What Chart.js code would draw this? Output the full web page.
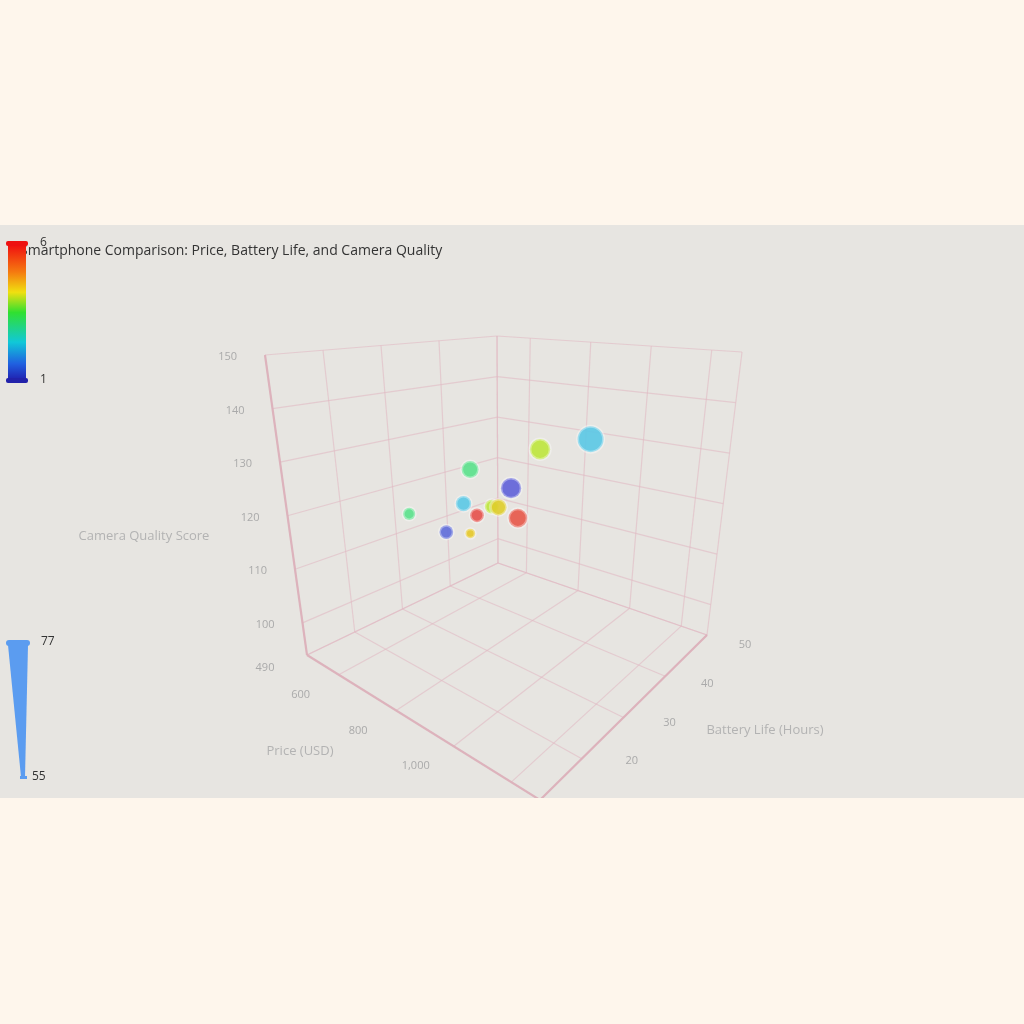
<!DOCTYPE html>
<html><head><meta charset="utf-8">
<script src="https://cdn.jsdelivr.net/npm/chart.js@4/dist/chart.umd.min.js"></script>
<style>html,body{margin:0;padding:0;background:#fef6ec;}#w{width:1024px;height:1024px;}</style>
</head><body><div id="w"><canvas id="c"></canvas></div>
<script>
const prices  = [960, 820, 822, 750, 758, 529, 763, 870, 943, 855, 845, 912];
const battery = [42, 40, 34, 30, 28, 30, 24, 24, 18, 28, 30, 30];
const camera  = [133, 130, 124, 128, 122, 115, 118, 123, 123, 123, 122, 121];
const sizes   = [77, 70, 70, 66, 64, 60, 62, 62, 57, 62, 65, 68];
const colorVals = [2.0, 3.7, 1.1, 3.0, 2.0, 3.0, 1.2, 6.0, 4.3, 3.7, 4.2, 5.9];
const priceTicks = [490, 600, 800, 1000];
const batteryTicks = [20, 30, 40, 50];
const cameraTicks = [100, 110, 120, 130, 140, 150];
const P=[490,1300], B=[10,50], C=[94,150];

const F=[[307,655],[540,800],[498,563],[707,635]];
const T=[[265,355],[548,395],[497,336],[742,352]];
function proj(p,b,c){
  const u=(p-P[0])/(P[1]-P[0]), v=(b-B[0])/(B[1]-B[0]), w=(c-C[0])/(C[1]-C[0]);
  const r=[0,0];
  for(let k=0;k<2;k++){
    const f=(1-u)*(1-v)*F[0][k]+u*(1-v)*F[1][k]+(1-u)*v*F[2][k]+u*v*F[3][k];
    const t=(1-u)*(1-v)*T[0][k]+u*(1-v)*T[1][k]+(1-u)*v*T[2][k]+u*v*T[3][k];
    r[k]=f+(t-f)*w;}
  return {x:r[0],y:r[1]};
}
const stops=[[1,[95,85,215]],[2,[90,200,230]],[3,[90,225,140]],[3.7,[190,230,60]],[4.3,[230,200,40]],[5,[240,140,50]],[6,[230,80,75]]];
function col(v,a){
  for(let i=0;i<stops.length-1;i++){const [a0,c0]=stops[i],[a1,c1]=stops[i+1];
    if(v<=a1){const t=(v-a0)/(a1-a0);return `rgba(${c0.map((x,k)=>Math.round(x+(c1[k]-x)*t)).join(',')},${a})`;}}
  return `rgba(230,80,75,${a})`;
}
const pts=prices.map((p,i)=>proj(p,battery[i],camera[i]));
const radii=sizes.map(s=>4+(s-55)/(77-55)*9);

const deco={id:'deco',beforeDraw(ch){
  const g=ch.ctx;g.save();
  g.fillStyle='#fef6ec';g.fillRect(0,0,1024,1024);
  g.fillStyle='#e7e5e1';g.fillRect(0,225,1024,573);
  g.beginPath();g.rect(0,225,1024,573);g.clip();
  g.strokeStyle='rgba(225,185,195,0.6)';g.lineWidth=1.2;
  const L=(a,b)=>{g.beginPath();g.moveTo(a.x,a.y);g.lineTo(b.x,b.y);g.stroke();};
  const pt=[490,600,800,1000,1200,1300], bt=[10,20,30,40,50], ct=[94,100,110,120,130,140,150];
  pt.forEach(p=>{L(proj(p,B[0],C[0]),proj(p,B[1],C[0]));L(proj(p,B[1],C[0]),proj(p,B[1],C[1]));});
  bt.forEach(b=>{L(proj(P[0],b,C[0]),proj(P[1],b,C[0]));L(proj(P[0],b,C[0]),proj(P[0],b,C[1]));});
  ct.forEach(c=>{L(proj(P[0],B[0],c),proj(P[0],B[1],c));L(proj(P[0],B[1],c),proj(P[1],B[1],c));});
  g.strokeStyle='rgba(220,175,185,0.9)';g.lineWidth=2.2;
  L(proj(P[0],B[0],C[0]),proj(P[1],B[0],C[0]));L(proj(P[1],B[0],C[0]),proj(P[1],B[1],C[0]));
  L(proj(P[0],B[0],C[0]),proj(P[0],B[0],C[1]));
  g.font='11px "Open Sans", sans-serif';g.fillStyle='#aaa';g.textAlign='right';g.textBaseline='middle';
  cameraTicks.forEach(c=>{const q=proj(P[0],B[0],c);g.fillText(c,q.x-28,q.y+2);});
  g.textAlign='center';
  priceTicks.forEach(p=>{const q=proj(p,B[0],C[0]);g.fillText(p.toLocaleString('en-US'),q.x-(p===490?42:38),q.y+(p===490?13:20));});
  batteryTicks.forEach(b=>{const q=proj(P[1],b,C[0]);g.fillText(b,q.x+38+(50-b)*0.4,q.y+10-(50-b)*0.25);});
  g.font='13px "Open Sans", sans-serif';g.fillStyle='#b3b3b3';
  g.fillText('Camera Quality Score',144,536);g.fillText('Price (USD)',300,751);g.fillText('Battery Life (Hours)',765,730);
  g.restore();
},afterDraw(ch){
  const g=ch.ctx;g.save();
  g.font='14px "Open Sans", sans-serif';g.fillStyle='#333';g.textBaseline='middle';g.textAlign='left';
  g.fillText('Smartphone Comparison: Price, Battery Life, and Camera Quality',20,251);
  const gr=g.createLinearGradient(0,245,0,380);
  [[0,'#f01010'],[0.2,'#f57a10'],[0.35,'#f0e010'],[0.5,'#30e030'],[0.72,'#10c8d8'],[0.88,'#2060e0'],[1,'#2020b0']].forEach(([o,c])=>gr.addColorStop(o,c));
  g.fillStyle=gr;g.fillRect(8,245,18,135);
  g.fillStyle='#e11';g.beginPath();g.roundRect(6,241,22,5,2);g.fill();
  g.fillStyle='#2222aa';g.beginPath();g.roundRect(6,378,22,5,2);g.fill();
  g.fillStyle='#333';g.font='12px "Open Sans", sans-serif';g.fillText('6',40,243);g.fillText('1',40,380);
  g.fillStyle='#5b9cf0';g.beginPath();g.moveTo(8,645);g.lineTo(28,645);g.lineTo(25,777);g.lineTo(21,777);g.closePath();g.fill();
  g.beginPath();g.roundRect(6,640,24,6,3);g.fill();g.fillRect(20,776,7,3);
  g.fillStyle='#333';g.fillText('77',41,642);g.fillText('55',32,777);
  g.restore();
}};
new Chart(document.getElementById('c'),{type:'bubble',
  data:{datasets:[{data:pts.map((q,i)=>({x:q.x,y:q.y,r:radii[i]})),
    backgroundColor:colorVals.map(v=>col(v,0.9)),borderColor:'rgba(255,255,255,0.35)',borderWidth:3}]},
  options:{responsive:true,maintainAspectRatio:false,animation:false,layout:{padding:0},
    plugins:{legend:{display:false},tooltip:{enabled:false}},
    scales:{x:{display:false,min:0,max:1024},y:{display:false,min:0,max:1024,reverse:true}}},
  plugins:[deco]});
</script></body></html>
